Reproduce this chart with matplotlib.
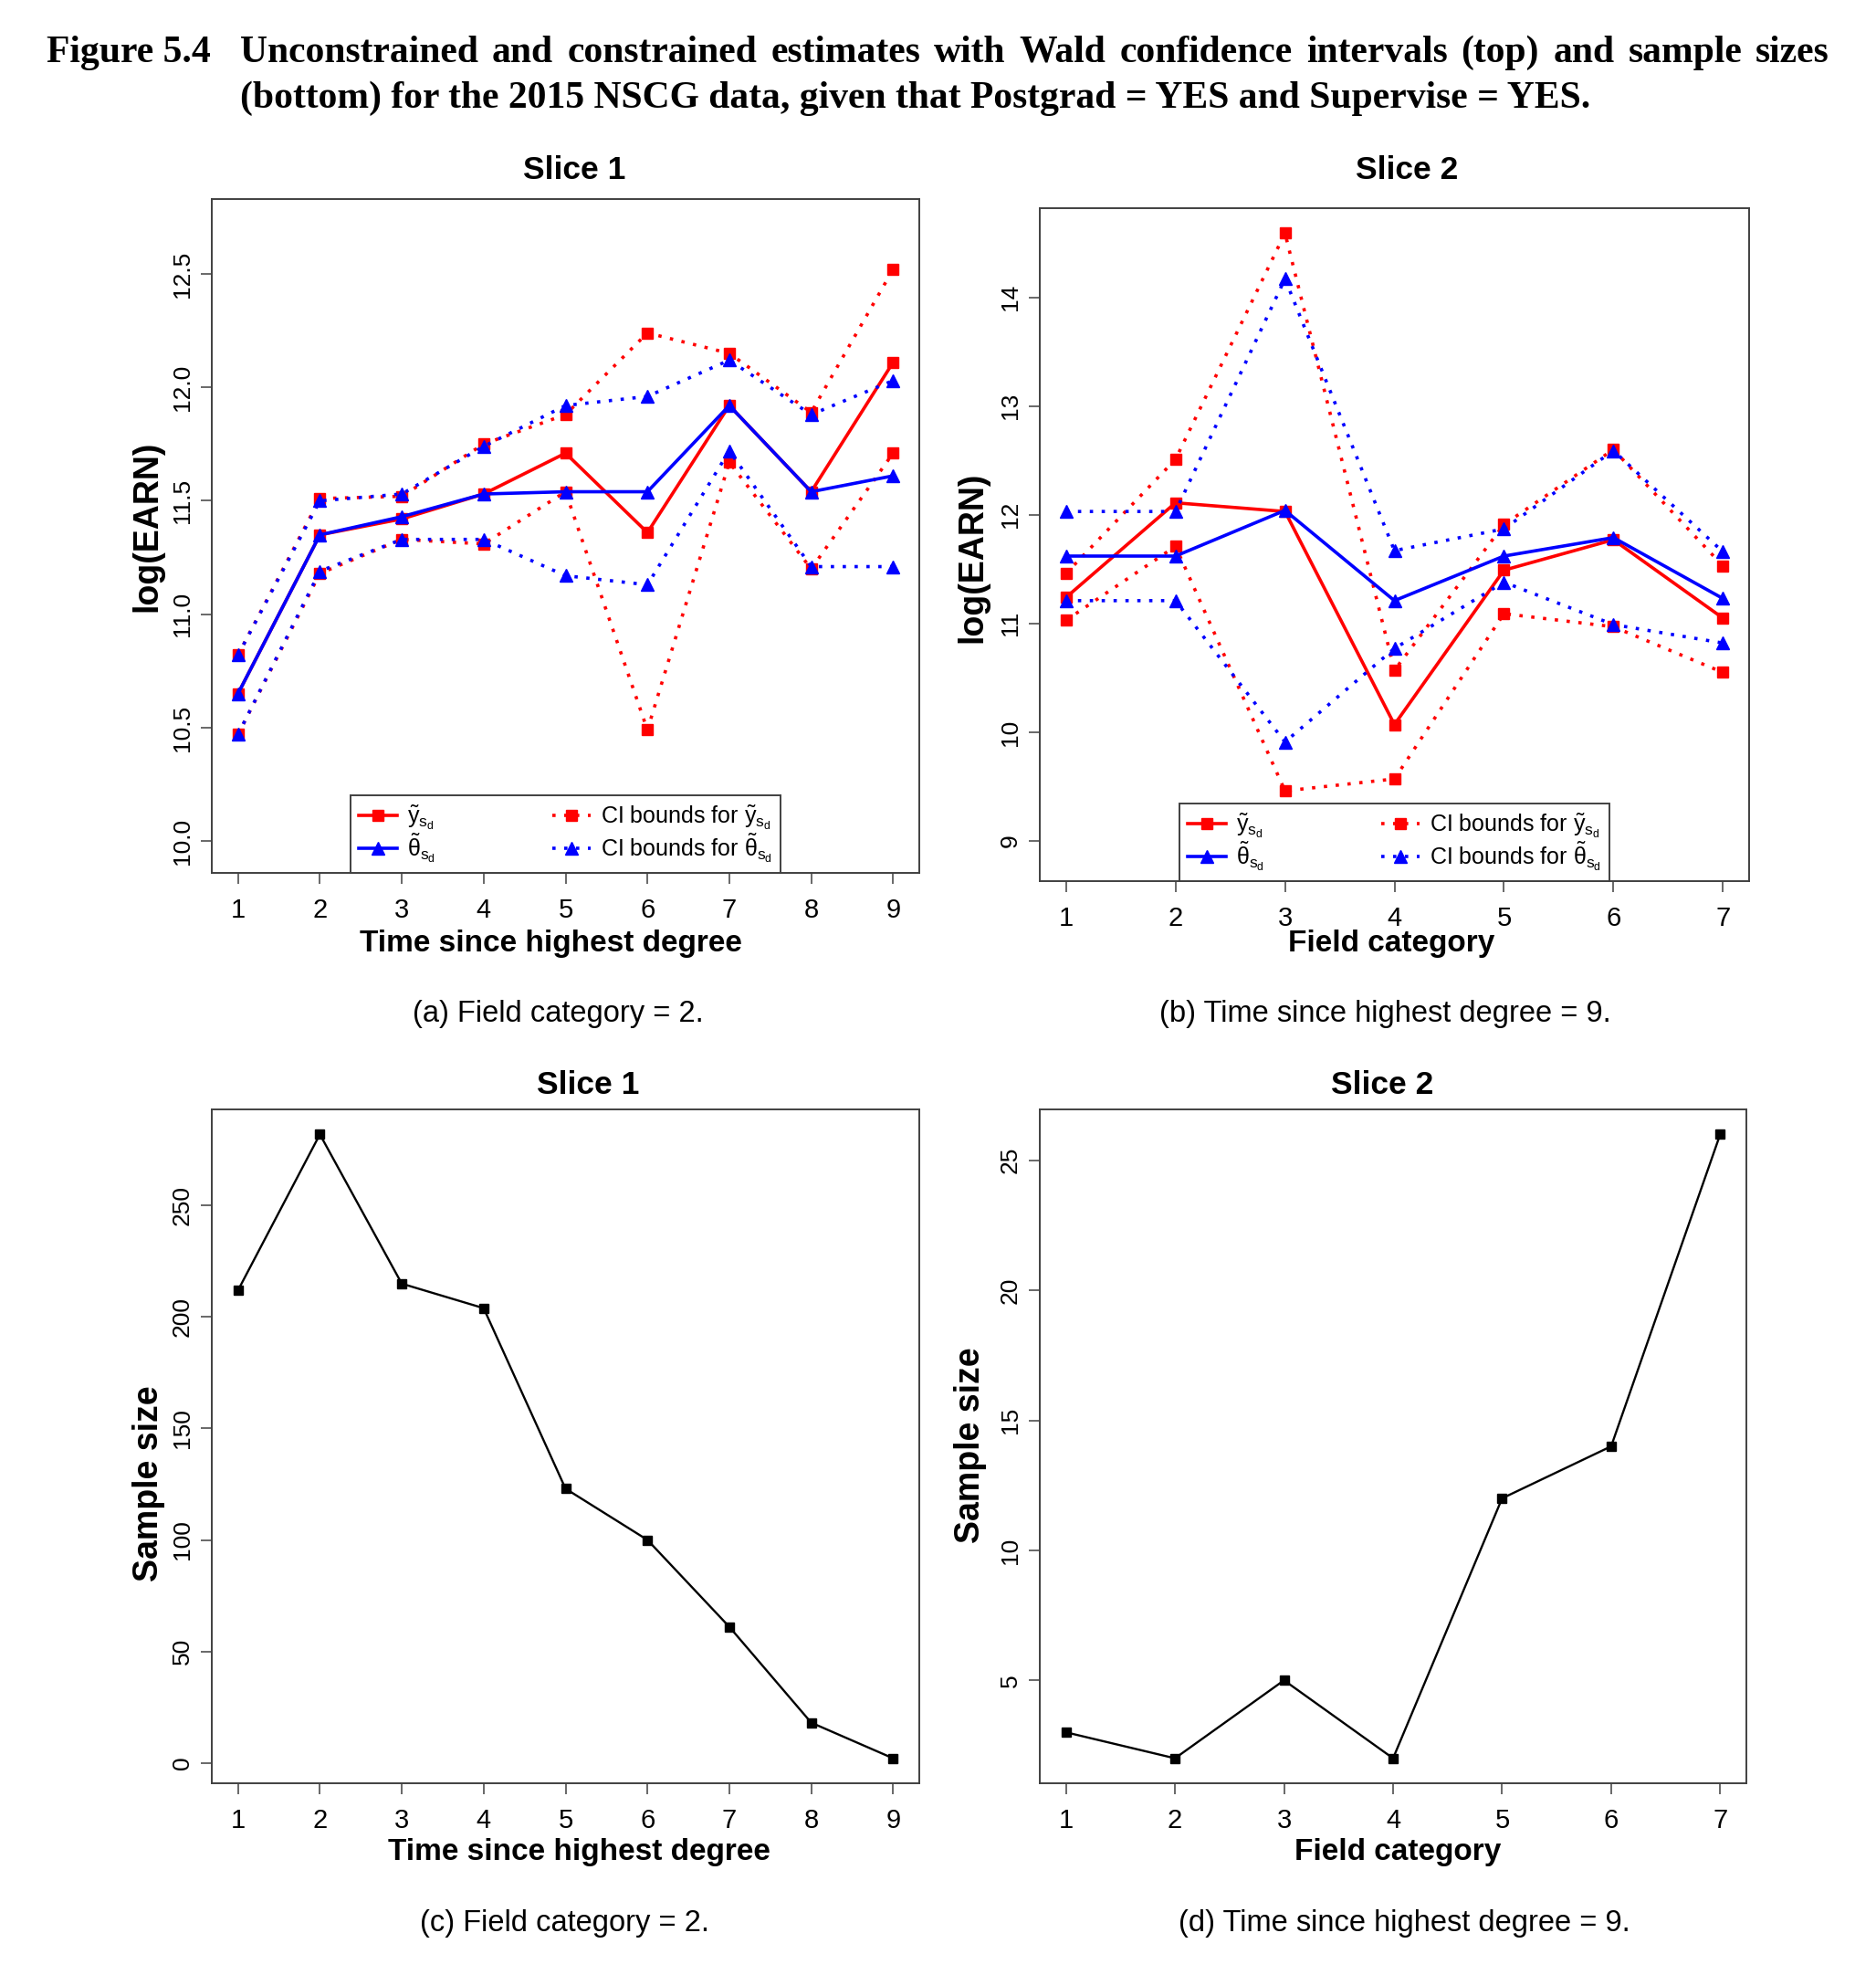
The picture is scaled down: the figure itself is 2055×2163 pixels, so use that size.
import matplotlib
matplotlib.use("Agg")
import matplotlib.pyplot as plt
from matplotlib.lines import Line2D

plt.rcParams['font.family'] = ['Liberation Sans', 'DejaVu Sans']
plt.rcParams['mathtext.fontset'] = 'custom'
plt.rcParams['mathtext.rm'] = 'Liberation Sans'
plt.rcParams['mathtext.it'] = 'Liberation Sans'
plt.rcParams['mathtext.bf'] = 'Liberation Sans:bold'

W, H = 2055, 2163

# ---- data ----
time_cat = [1, 2, 3, 4, 5, 6, 7, 8, 9]
field_cat = [1, 2, 3, 4, 5, 6, 7]

# slice 1: field category = 2, over time since highest degree
s1_y = [10.65, 11.35, 11.42, 11.53, 11.71, 11.36, 11.92, 11.54, 12.11]
s1_th = [10.65, 11.35, 11.43, 11.53, 11.54, 11.54, 11.92, 11.54, 11.61]
s1_y_hi = [10.82, 11.51, 11.52, 11.75, 11.88, 12.24, 12.15, 11.89, 12.52]
s1_y_lo = [10.47, 11.18, 11.33, 11.31, 11.54, 10.49, 11.67, 11.20, 11.71]
s1_th_hi = [10.82, 11.50, 11.53, 11.74, 11.92, 11.96, 12.12, 11.88, 12.03]
s1_th_lo = [10.47, 11.19, 11.33, 11.33, 11.17, 11.13, 11.72, 11.21, 11.21]
s1_n = [212, 282, 215, 204, 123, 100, 61, 18, 2]

# slice 2: time since highest degree = 9, over field category
s2_y = [11.24, 12.11, 12.03, 10.07, 11.49, 11.77, 11.05]
s2_th = [11.62, 11.62, 12.04, 11.21, 11.62, 11.79, 11.23]
s2_y_hi = [11.46, 12.51, 14.59, 10.57, 11.91, 12.60, 11.53]
s2_y_lo = [11.03, 11.71, 9.46, 9.57, 11.09, 10.97, 10.55]
s2_th_hi = [12.03, 12.03, 14.17, 11.67, 11.87, 12.59, 11.66]
s2_th_lo = [11.21, 11.21, 9.91, 10.77, 11.38, 10.99, 10.82]
s2_n = [3, 2, 5, 2, 12, 14, 26]

FRAME = "#404040"
DOT = (0, (1, 2.6))


def fx(px):
    return px / W


def fy(py):
    return 1 - py / H


def add_ax(fig, l, t, r, b):
    ax = fig.add_axes([fx(l), fy(b), fx(r) - fx(l), fy(t) - fy(b)])
    for sp in ax.spines.values():
        sp.set_color(FRAME); sp.set_linewidth(1.4)
    ax.tick_params(direction="out", length=8.6, width=1.1, color=FRAME)
    ax.tick_params(axis="x", pad=11, labelsize=21)
    ax.tick_params(axis="y", pad=6, labelsize=19)
    return ax


def rot_yticks(ax):
    plt.setp(ax.get_yticklabels(), rotation=90, va="center", ha="right")


def draw_est(ax, x, y, th, y_hi, y_lo, th_hi, th_lo):
    kw_r = dict(color="red", marker="s", ms=8.5)
    kw_b = dict(color="blue", marker="^", ms=10)
    ax.plot(x, y, lw=2.6, **kw_r)
    ax.plot(x, y_hi, lw=2.6, ls=DOT, **kw_r)
    ax.plot(x, y_lo, lw=2.6, ls=DOT, **kw_r)
    ax.plot(x, th, lw=2.6, **kw_b)
    ax.plot(x, th_hi, lw=2.6, ls=DOT, **kw_b)
    ax.plot(x, th_lo, lw=2.6, ls=DOT, **kw_b)
    hs = [Line2D([], [], color="red", marker="s", ms=8.5, lw=2.6),
          Line2D([], [], color="blue", marker="^", ms=10, lw=2.6),
          Line2D([], [], color="red", marker="s", ms=8.5, lw=2.6, ls=DOT),
          Line2D([], [], color="blue", marker="^", ms=10, lw=2.6, ls=DOT)]
    labs = [r"$\tilde{y}_{s_d}$", r"$\tilde{\theta}_{s_d}$",
            r"CI bounds for $\tilde{y}_{s_d}$", r"CI bounds for $\tilde{\theta}_{s_d}$"]
    leg = ax.legend(hs, labs, loc="lower center", ncol=2, fontsize=18, frameon=True,
                    fancybox=False, edgecolor=FRAME, framealpha=1, borderaxespad=0,
                    handlelength=1.7, columnspacing=5.1, labelspacing=0.0,
                    borderpad=0.35, handletextpad=0.45)
    leg.get_frame().set_linewidth(1.4)


fig = plt.figure(figsize=(W / 100, H / 100), dpi=100)

# (a)
a = add_ax(fig, 232, 218, 1007, 956)
draw_est(a, time_cat, s1_y, s1_th, s1_y_hi, s1_y_lo, s1_th_hi, s1_th_lo)
a.set_xlim(0.68, 9.32); a.set_ylim(9.86, 12.83)
a.set_xticks(time_cat)
a.set_yticks([10.0, 10.5, 11.0, 11.5, 12.0, 12.5])
a.set_yticklabels(["10.0", "10.5", "11.0", "11.5", "12.0", "12.5"])
rot_yticks(a)

# (b)
b = add_ax(fig, 1139, 228, 1916, 965)
draw_est(b, field_cat, s2_y, s2_th, s2_y_hi, s2_y_lo, s2_th_hi, s2_th_lo)
b.set_xlim(0.76, 7.24); b.set_ylim(8.63, 14.82)
b.set_xticks(field_cat)
b.set_yticks([9, 10, 11, 12, 13, 14])
rot_yticks(b)

# (c)
c = add_ax(fig, 232, 1215, 1007, 1953)
c.plot(time_cat, s1_n, color="black", lw=1.7, marker="s", ms=6.5)
c.set_xlim(0.68, 9.32); c.set_ylim(-9.2, 293.2)
c.set_xticks(time_cat)
c.set_yticks([0, 50, 100, 150, 200, 250])
rot_yticks(c)

# (d)
d = add_ax(fig, 1139, 1215, 1913, 1953)
d.plot(field_cat, s2_n, color="black", lw=1.7, marker="s", ms=6.5)
d.set_xlim(0.76, 7.24); d.set_ylim(1.04, 26.96)
d.set_xticks(field_cat)
d.set_yticks([5, 10, 15, 20, 25])
rot_yticks(d)

# panel titles, axis labels, captions
bold = dict(ha="center", va="center", fontweight="bold")
fig.text(fx(629), fy(186), "Slice 1", fontsize=25.5, **bold)
fig.text(fx(1541), fy(186), "Slice 2", fontsize=25.5, **bold)
fig.text(fx(644), fy(1189), "Slice 1", fontsize=25.5, **bold)
fig.text(fx(1514), fy(1189), "Slice 2", fontsize=25.5, **bold)

fig.text(fx(603), fy(1034), "Time since highest degree", fontsize=24, **bold)
fig.text(fx(1524), fy(1034), "Field category", fontsize=24, **bold)
fig.text(fx(634), fy(2029), "Time since highest degree", fontsize=24, **bold)
fig.text(fx(1531), fy(2029), "Field category", fontsize=24, **bold)

fig.text(fx(161), fy(576), "log(EARN)", fontsize=27, rotation=90, **bold)
fig.text(fx(1065), fy(610), "log(EARN)", fontsize=27, rotation=90, **bold)
fig.text(fx(163), fy(1625), "Sample size", fontsize=27, rotation=90, **bold)
fig.text(fx(1063), fy(1583), "Sample size", fontsize=27, rotation=90, **bold)

cap = dict(ha="center", va="center", fontsize=23.5)
fig.text(fx(611), fy(1110), "(a) Field category = 2.", **cap)
fig.text(fx(1517), fy(1110), "(b) Time since highest degree = 9.", **cap)
fig.text(fx(619), fy(2106), "(c) Field category = 2.", **cap)
fig.text(fx(1538), fy(2106), "(d) Time since highest degree = 9.", **cap)

# figure caption (serif, bold), first line justified
serif = dict(family=["Liberation Serif", "DejaVu Serif"], fontweight="bold", fontsize=30,
             va="center", ha="left")
fig.text(fx(51), fy(58), "Figure 5.4", **serif)
line1 = "Unconstrained and constrained estimates with Wald confidence intervals (top) and sample sizes"
line2 = "(bottom) for the 2015 NSCG data, given that Postgrad = YES and Supervise = YES."
x0, x1 = 263, 2004
words = line1.split()
r = fig.canvas.get_renderer()
tw = []
for w in words:
    t = fig.text(0, 0, w, **serif)
    tw.append(t.get_window_extent(r).width)
    t.remove()
gap = (x1 - x0 - sum(tw)) / (len(words) - 1)
xp = x0
for w, wd in zip(words, tw):
    fig.text(fx(xp), fy(58), w, **serif)
    xp += wd + gap
fig.text(fx(x0), fy(108), line2, **serif)

fig.savefig("out.png", dpi=100)
